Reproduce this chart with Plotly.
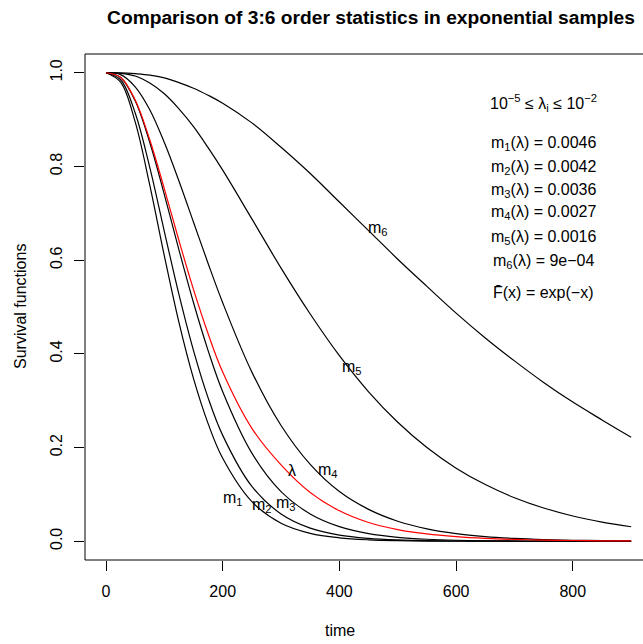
import plotly.graph_objects as go

# Survival functions, on a shared time grid
time = [0, 25, 50, 75, 100, 125, 150, 175, 200, 250, 300, 350, 400, 450,
        500, 550, 600, 650, 700, 750, 800, 850, 900]

m1 = [1.0, 0.980, 0.895, 0.760, 0.609, 0.467, 0.347, 0.251, 0.177, 0.0845,
      0.0385, 0.0169, 0.0073, 0.0031, 0.0013, 0.0005, 0.0002, 0.0001,
      0.00004, 0.00002, 0.00001, 0.0, 0.0]
m2 = [1.0, 0.985, 0.914, 0.798, 0.661, 0.527, 0.407, 0.306, 0.226, 0.117,
      0.0583, 0.0280, 0.0131, 0.0061, 0.0028, 0.0012, 0.00055, 0.00024,
      0.00011, 0.00005, 0.00002, 0.00001, 0.0]
m3 = [1.0, 0.990, 0.940, 0.851, 0.740, 0.622, 0.509, 0.407, 0.319, 0.188,
      0.106, 0.0583, 0.0311, 0.0163, 0.0084, 0.0043, 0.0022, 0.0011,
      0.00055, 0.00027, 0.00014, 0.00007, 0.00003]
m4 = [1.0, 0.996, 0.970, 0.921, 0.851, 0.769, 0.681, 0.593, 0.509, 0.361,
      0.247, 0.164, 0.106, 0.068, 0.0427, 0.0265, 0.0163, 0.0100, 0.0061,
      0.0036, 0.0022, 0.0013, 0.0008]
m5 = [1.0, 0.9987, 0.993, 0.978, 0.955, 0.923, 0.885, 0.840, 0.792, 0.688,
      0.583, 0.485, 0.396, 0.319, 0.254, 0.200, 0.156, 0.121, 0.093, 0.071,
      0.054, 0.041, 0.031]
m6 = [1.0, 0.9998, 0.998, 0.995, 0.989, 0.979, 0.967, 0.952, 0.935, 0.893,
      0.841, 0.785, 0.724, 0.663, 0.602, 0.544, 0.487, 0.434, 0.385, 0.339,
      0.297, 0.259, 0.222]
lam = [1.0, 0.9905, 0.942, 0.857, 0.752, 0.642, 0.537, 0.443, 0.361, 0.241,
       0.163, 0.104, 0.065, 0.040, 0.025, 0.0156, 0.0099, 0.0062, 0.0039,
       0.0025, 0.0016, 0.0010, 0.0007]

# curve labels (text, x, y)
curve_labels = [
    ("m<sub>1</sub>", 218, 0.091),
    ("m<sub>2</sub>", 268, 0.077),
    ("m<sub>3</sub>", 308, 0.080),
    ("λ", 319, 0.152),
    ("m<sub>4</sub>", 381, 0.152),
    ("m<sub>5</sub>", 422, 0.370),
    ("m<sub>6</sub>", 466, 0.667),
]

legend_lines = [
    "10<sup>−5</sup> ≤ λ<sub>i</sub> ≤ 10<sup>−2</sup>",
    "m<sub>1</sub>(λ) = 0.0046",
    "m<sub>2</sub>(λ) = 0.0042",
    "m<sub>3</sub>(λ) = 0.0036",
    "m<sub>4</sub>(λ) = 0.0027",
    "m<sub>5</sub>(λ) = 0.0016",
    "m<sub>6</sub>(λ) = 9e−04",
    "F\u0304(x) = exp(−x)",
]
legend_py = [103, 143, 167, 190, 213, 237, 261, 292]

FONT = "Liberation Sans, Arial, Helvetica, sans-serif"
W, H = 643, 644
L, T, B = 85, 54, 84
PH = H - T - B

fig = go.Figure()
for ys in [m1, m2, m3, m4, m5, m6]:
    fig.add_trace(go.Scatter(x=time, y=ys, mode="lines", line_shape="spline",
                             line=dict(color="black", width=1.2),
                             showlegend=False, hoverinfo="skip"))
fig.add_trace(go.Scatter(x=time, y=lam, mode="lines", line_shape="spline",
                         line=dict(color="#ff0000", width=1.2),
                         showlegend=False, hoverinfo="skip"))

annotations = []
for txt, x, y in curve_labels:
    annotations.append(dict(text=txt, x=x, y=y, xref="x", yref="y",
                            xanchor="center", yanchor="middle",
                            showarrow=False, font=dict(size=16, color="black")))
for txt, py in zip(legend_lines, legend_py):
    annotations.append(dict(text=txt, x=(543 - L) / (W - L), y=(H - B - py) / PH,
                            xref="paper", yref="paper", showarrow=False,
                            xanchor="center", yanchor="middle",
                            font=dict(size=16, color="black")))
annotations.append(dict(text="time", x=(340 - L) / (W - L), y=(H - B - 630) / PH,
                        xref="paper", yref="paper", showarrow=False,
                        xanchor="center", yanchor="middle",
                        font=dict(size=16, color="black")))
annotations.append(dict(text="Survival functions", x=(20 - L) / (W - L),
                        y=(H - B - 307) / PH, xref="paper", yref="paper",
                        xanchor="center", yanchor="middle",
                        showarrow=False, textangle=-90,
                        font=dict(size=16, color="black")))

fig.update_layout(
    width=W, height=H,
    margin=dict(l=L, r=0, t=T, b=B),
    paper_bgcolor="white", plot_bgcolor="white",
    font=dict(family=FONT, size=16, color="black"),
    title=dict(text="<b>Comparison of 3:6 order statistics in exponential samples</b>",
               x=371 / W, xref="container", xanchor="center",
               y=1 - 17 / H, yref="container", yanchor="middle",
               font=dict(size=19.2, color="black")),
    xaxis=dict(range=[-36, 920.3], tickvals=[0, 200, 400, 600, 800],
               ticks="outside", ticklen=10, tickcolor="black", tickwidth=1,
               showgrid=False, zeroline=False, showline=False,
               ticklabelstandoff=7),
    yaxis=dict(range=[-0.04, 1.04], tickvals=[0, 0.2, 0.4, 0.6, 0.8, 1.0],
               ticktext=["0.0", "0.2", "0.4", "0.6", "0.8", "1.0"],
               tickangle=-90,
               ticks="outside", ticklen=10, tickcolor="black", tickwidth=1,
               showgrid=False, zeroline=False, showline=False,
               ticklabelstandoff=6),
    shapes=[dict(type="rect", xref="paper", yref="paper", x0=0, x1=1.1,
                 y0=0, y1=1, line=dict(color="black", width=1))],
    annotations=annotations,
)

fig.write_html("out.html", config={"displayModeBar": False},
               post_script="document.body.style.margin = '0';")
